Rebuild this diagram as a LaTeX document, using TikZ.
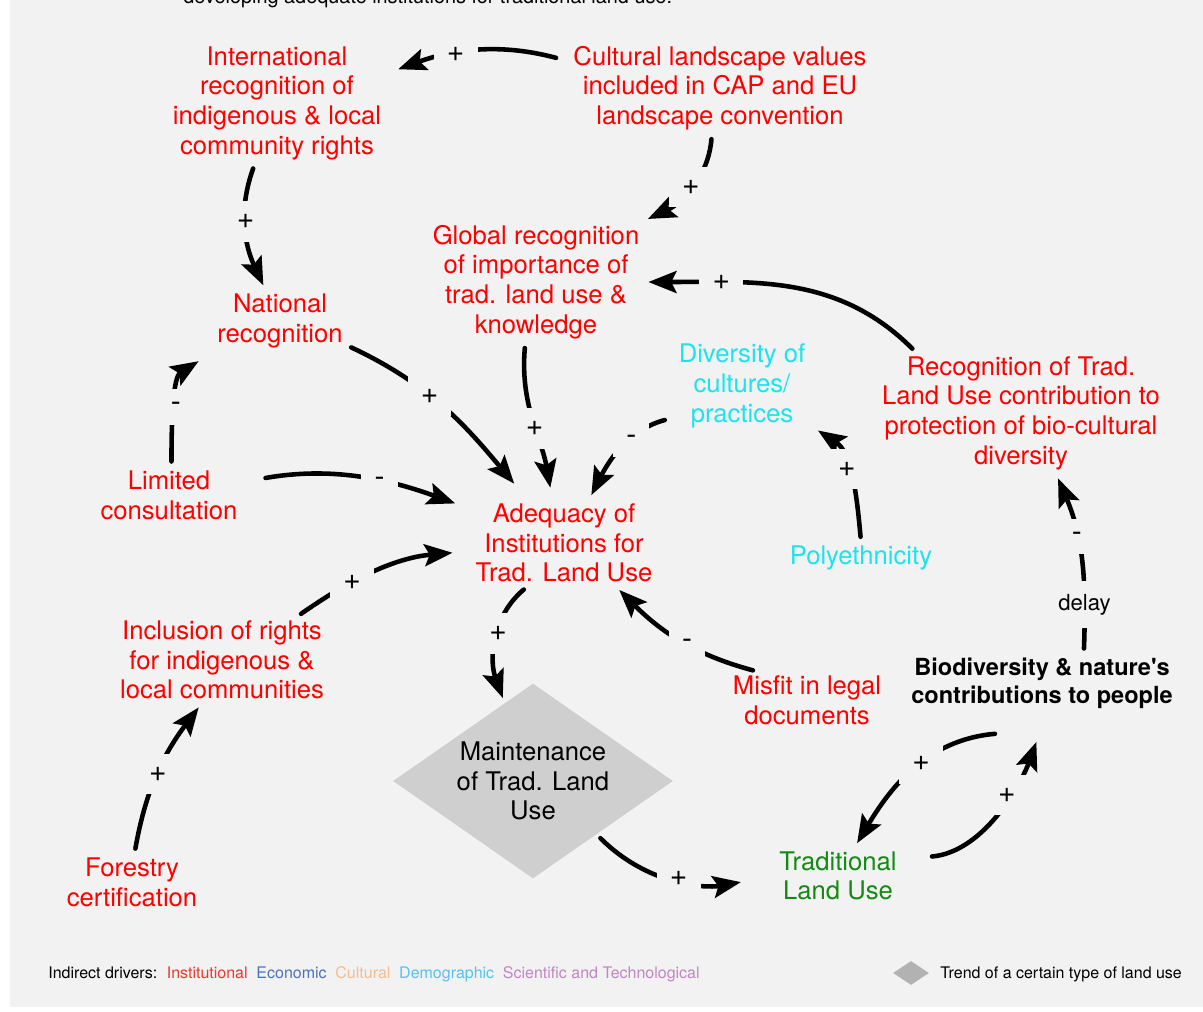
\documentclass[tikz,border=0pt]{standalone}
\usepackage{fontspec}
\setmainfont{TeX Gyre Heros}
\usetikzlibrary{arrows.meta, shapes.geometric}
\definecolor{instred}{HTML}{FF0000}
\definecolor{democyan}{HTML}{1DE3EF}
\definecolor{tlugreen}{HTML}{138A13}
\definecolor{panelgray}{HTML}{F2F2F2}
\definecolor{trendgray}{HTML}{CFCFCF}
\definecolor{legred}{HTML}{E8392F}
\definecolor{legblue}{HTML}{4A72C2}
\definecolor{legorange}{HTML}{F5BC8F}
\definecolor{legcyan}{HTML}{55C2EE}
\definecolor{legpurple}{HTML}{C285C4}

\begin{document}
\begin{tikzpicture}[
    x=0.02cm, y=0.02cm,
    factor/.style={text=#1, align=center, inner sep=2pt, font=\fontsize{14.6}{16.9}\selectfont},
    factor/.default=instred,
    npcnode/.style={align=center, inner sep=2pt, font=\fontsize{13.4}{16}\selectfont\bfseries},
    trend/.style={diamond, fill=trendgray, aspect=1.45, inner sep=0pt, minimum width=5.6cm, minimum height=3.9cm, align=center, font=\fontsize{14.6}{16.9}\selectfont},
    link/.style={-{Stealth[length=16pt, width=12.5pt, inset=3pt]}, line width=2.6pt, line cap=round, shorten <=3pt, shorten >=3pt},
    sgn/.style={fill=panelgray, inner sep=7.5pt, font=\fontsize{17}{18}\selectfont},
    legtext/.style={anchor=base west, inner sep=0pt, font=\fontsize{9.1}{11}\selectfont}
  ]
    \useasboundingbox (0,0) rectangle (1203,-1011);
    \fill[panelgray] (10,2) rectangle (1205,-1007);

    % caption cut by the top edge
    \node[anchor=base west, inner sep=0pt, font=\fontsize{11.3}{13}\selectfont] (caption) at (183,-3) {developing adequate institutions for traditional land use.};

    % factors
    \node[factor] (intl) at (277,-103) {International\\recognition of\\indigenous \& local\\community rights};
    \node[factor] (cap) at (720,-88) {Cultural landscape values\\included in CAP and EU\\landscape convention};
    \node[factor] (global) at (536,-282) {Global recognition\\of importance of\\trad. land use \&\\knowledge};
    \node[factor] (national) at (280,-321) {National\\recognition};
    \node[factor=democyan] (diversity) at (742,-386) {Diversity of\\cultures/\\practices};
    \node[factor] (recog) at (1021,-413) {Recognition of Trad.\\Land Use contribution to\\protection of bio-cultural\\diversity};
    \node[factor] (limited) at (169,-495) {Limited\\consultation};
    \node[factor] (adequacy) at (564,-543) {Adequacy of\\Institutions for\\Trad. Land Use};
    \node[factor=democyan] (poly) at (861,-558) {Polyethnicity};
    \node[factor] (inclusion) at (222,-660) {Inclusion of rights\\for indigenous \&\\local communities};
    \node[factor] (misfit) at (807,-700) {Misfit in legal\\documents};
    \node[npcnode] (biodiv) at (1042,-683) {Biodiversity \& nature\textquotesingle s\\contributions to people};
    \node[trend] (maint) at (533,-781) {Maintenance\\of Trad. Land\\Use};
    \node[factor] (forestry) at (132,-882) {Forestry\\certification};
    \node[factor=tlugreen] (tradlu) at (838,-876) {Traditional\\Land Use};

    % causal links
    \draw[link, shorten <=8pt, shorten >=8pt] (cap.170) to[out=165,in=20] node[sgn,pos=0.62] (p1) {+} (intl.15);
    \draw[link] (cap.-100) to[out=-95,in=25] node[sgn,pos=0.5] (p2) {+} (global.north east);
    \draw[link] (intl.-110) to[out=-110,in=115] node[sgn,pos=0.45] (p3) {+} (national.115);
    \draw[link, shorten >=7pt] (global.-100) to[out=-95,in=100] node[sgn,pos=0.55] (p4) {+} (adequacy.105);
    \draw[link, shorten >=12pt] (national.-20) to[out=-25,in=130] node[sgn,pos=0.4] (p5) {+} (adequacy.130);
    \draw[link, shorten <=14pt, shorten >=10pt] (limited.10) to[out=10,in=160] node[sgn,pos=0.6] (p6) {-} (adequacy.160);
    \draw[link, shorten >=10pt] (limited.85) to[out=90,in=212] node[sgn,pos=0.45] (p7) {-} (national.south west);
    \draw[link, shorten >=11pt] (inclusion.30) to[out=35,in=185] node[sgn,pos=0.33] (p8) {+} (adequacy.185);
    \draw[link] (forestry.85) to[out=80,in=233] node[sgn,pos=0.5] (p9) {+} (inclusion.-115);
    \draw[link] (adequacy.-130) to[out=-140,in=110] node[sgn,pos=0.45] (p10) {+} (maint.110);
    \draw[link, shorten >=20pt] (maint.-40) to[out=-45,in=190] node[sgn,pos=0.5] (p11) {+} (tradlu.west);
    \draw[link] (misfit.150) to[out=165,in=-45] node[sgn,pos=0.45] (p12) {-} (adequacy.-40);
    \draw[link, shorten >=6pt] (poly.north) to[out=95,in=-33] node[sgn,pos=0.55] (p13) {+} (diversity.-30);
    \draw[link, shorten <=6pt] (diversity.205) to[out=195,in=63] node[sgn,pos=0.4] (p14) {-} (adequacy.60);
    \draw[link] (recog.150) to[out=135,in=0] node[sgn,pos=0.75] (p15) {+} (global.east);
    \draw[link] (biodiv.35) to[out=88,in=-67] node[sgn,pos=0.25,font=\fontsize{12.6}{14}\selectfont] (p16) {delay} node[sgn,pos=0.65] (p17) {-} (recog.-60);
    \draw[link] ([yshift=-12pt]biodiv.-145) to[out=185,in=59] node[sgn,pos=0.45] (p18) {+} (tradlu.60);
    \draw[link, shorten <=18pt, shorten >=18pt] (tradlu.15) to[out=5,in=-110] node[sgn,pos=0.6] (p19) {+} (biodiv.-80);

    % legend
    \node[legtext] (drivers) at (48,-978) {Indirect drivers:\hskip5.5pt\textcolor{legred}{Institutional}\hskip5pt\textcolor{legblue}{Economic}\hskip5pt\textcolor{legorange}{Cultural}\hskip5pt\textcolor{legcyan}{Demographic}\hskip5pt\textcolor{legpurple}{Scientific and Technological}};
    \node[diamond, fill=black!30, inner sep=0pt, aspect=1.5, minimum width=0.72cm, minimum height=0.48cm] (legdiam) at (911,-973) {};
    \node[legtext] (legtrend) at (940,-978) {Trend of a certain type of land use};
  \end{tikzpicture}
\end{document}
